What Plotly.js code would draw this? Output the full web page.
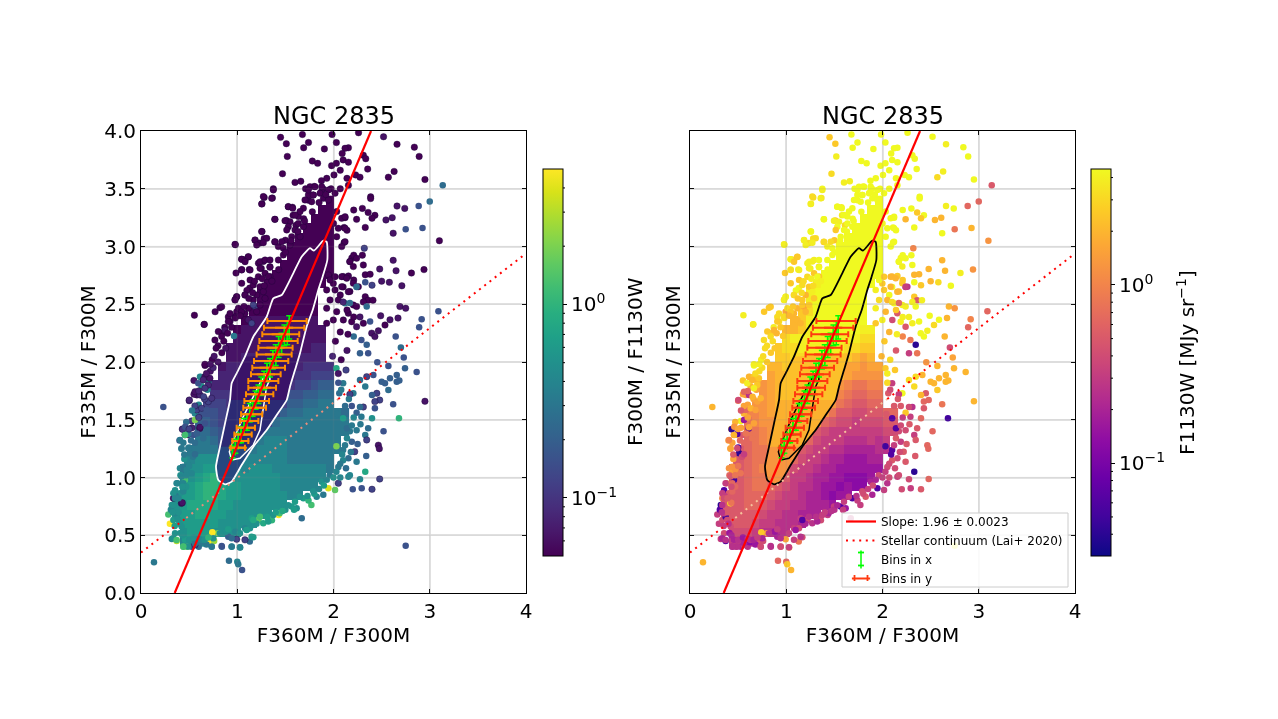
<!DOCTYPE html>
<html><head><meta charset="utf-8">
<script src="https://cdn.plot.ly/plotly-3.0.1.min.js"></script>
<style>html,body{margin:0;padding:0;background:#fff}#c{width:1278px;height:719px;filter:blur(0.45px)}</style>
</head><body><div id="c"></div>
<script>
const _ = null;
// colour values are tenths of a decade: 0 = 10^0, -10 = 10^-1
const heatX = [.28,.36,.44,.52,.60,.68,.76,.84,.92,1.0,1.08,1.16,1.24,1.32,1.40,1.48,1.56,1.64,1.72,1.80,1.88,1.96,2.04,2.12];
const heatY = [.44,.52,.60,.68,.76,.84,.92,1.0,1.08,1.16,1.24,1.32,1.40,1.48,1.56,1.64,1.72,1.80,1.88,1.96,2.04,2.12,2.20,2.28,2.36,2.44,2.52,2.60,2.68,2.76,2.84,2.92,3.0,3.08,3.16,3.24,3.32,3.40];
const heatRatio = [
[_,_,-4,-3,-3,-3,_,_,_,_,_,_,_,_,_,_,_,_,_,_,_,_,_,_],
[_,_,-3,-2,-2,-2,-3,-3,-3,-3,_,_,_,_,_,_,_,_,_,_,_,_,_,_],
[_,_,-2,-2,-2,-2,-2,-3,-3,-3,-3,-3,_,_,_,_,_,_,_,_,_,_,_,_],
[_,-3,-2,-2,-1,-1,-2,-2,-3,-3,-3,-3,-3,-3,_,_,_,_,_,_,_,_,_,_],
[_,-3,-2,-1,-1,-1,-1,-2,-2,-3,-3,-3,-3,-3,-3,-3,_,_,_,_,_,_,_,_],
[_,-3,-2,-2,-1,0,0,-1,-2,-2,-3,-3,-3,-3,-3,-3,-4,-4,_,_,_,_,_,_],
[_,_,-3,-2,-1,0,0,-1,-2,-2,-3,-3,-3,-3,-3,-4,-4,-4,-4,-4,_,_,_,_],
[_,_,-4,-3,-2,-1,0,-1,-2,-3,-3,-3,-3,-3,-3,-4,-4,-4,-4,-4,-4,_,_,_],
[_,_,-4,-3,-3,-2,-2,-2,-3,-3,-4,-3,-3,-3,-4,-4,-4,-4,-4,-4,-4,-5,_,_],
[_,_,_,-4,-3,-3,-3,-7,-8,-6,-4,-4,-4,-4,-4,-4,-5,-5,-5,-5,-5,-5,_,_],
[_,_,_,-5,-5,-5,-5,-8,-8,-8,-7,-5,-4,-4,-4,-4,-5,-5,-5,-5,-5,-5,-5,_],
[_,_,_,_,-5,-5,-6,-8,-8,-8,-8,-7,-5,-4,-4,-4,-5,-5,-5,-5,-5,-5,-5,_],
[_,_,_,_,-6,-6,-7,-8,-8,-8,-8,-8,-8,-5,-5,-5,-5,-5,-5,-5,-5,-5,-5,-5],
[_,_,_,_,-7,-7,-8,-9,-9,-9,-9,-9,-9,-9,-6,-5,-5,-5,-5,-5,-5,-5,-5,-5],
[_,_,_,_,-8,-8,-8,-9,-9,-9,-9,-9,-9,-9,-9,-7,-6,-6,-5,-5,-5,-5,-5,-6],
[_,_,_,_,_,-9,-9,-9,-10,-10,-10,-10,-10,-10,-10,-9,-7,-7,-6,-6,-5,-5,_,_],
[_,_,_,_,_,_,-10,-10,-10,-10,-10,-10,-10,-10,-10,-10,-8,-8,-7,-7,-6,-6,_,_],
[_,_,_,_,_,_,-11,-11,-11,-11,-11,-11,-11,-11,-11,-11,-10,-9,-9,-8,-7,-7,_,_],
[_,_,_,_,_,_,_,-11,-11,-11,-11,-11,-11,-11,-11,-11,-11,-10,-10,-9,-9,-9,_,_],
[_,_,_,_,_,_,_,-12,-11,-11,-11,-11,-11,-11,-11,-11,-11,-11,-10,-10,-10,-10,_,_],
[_,_,_,_,_,_,_,_,-12,-12,-11,-11,-11,-11,-11,-11,-11,-11,-11,-11,-11,_,_,_],
[_,_,_,_,_,_,_,_,-12,-12,-12,-12,-12,-12,-12,-12,-12,-12,-12,-11,-11,_,_,_],
[_,_,_,_,_,_,_,_,_,-12,-12,-12,-12,-12,-12,-12,-12,-12,-12,-12,-12,_,_,_],
[_,_,_,_,_,_,_,_,_,-13,-12,-12,-12,-12,-12,-12,-12,-12,-12,-12,-12,_,_,_],
[_,_,_,_,_,_,_,_,_,_,-13,-12,-12,-12,-12,-12,-12,-12,-12,-12,_,_,_,_],
[_,_,_,_,_,_,_,_,_,_,_,-13,-13,-13,-13,-13,-13,-13,-13,-13,_,_,_,_],
[_,_,_,_,_,_,_,_,_,_,_,_,-13,-13,-13,-13,-13,-13,-13,-13,_,_,_,_],
[_,_,_,_,_,_,_,_,_,_,_,_,-13,-13,-13,-13,-13,-13,-13,-13,_,_,_,_],
[_,_,_,_,_,_,_,_,_,_,_,_,_,-13,-13,-13,-13,-13,-13,-13,-13,_,_,_],
[_,_,_,_,_,_,_,_,_,_,_,_,_,_,-13,-13,-13,-13,-13,-13,-13,-13,_,_],
[_,_,_,_,_,_,_,_,_,_,_,_,_,_,_,-13,-13,-13,-13,-13,-13,-13,_,_],
[_,_,_,_,_,_,_,_,_,_,_,_,_,_,_,_,-13,-13,-13,-13,-13,-13,_,_],
[_,_,_,_,_,_,_,_,_,_,_,_,_,_,_,_,-13,-13,-13,-13,-13,-13,_,_],
[_,_,_,_,_,_,_,_,_,_,_,_,_,_,_,_,_,-13,-13,-13,-13,-13,_,_],
[_,_,_,_,_,_,_,_,_,_,_,_,_,_,_,_,_,_,-13,-13,-13,-13,_,_],
[_,_,_,_,_,_,_,_,_,_,_,_,_,_,_,_,_,_,_,-13,-13,-13,_,_],
[_,_,_,_,_,_,_,_,_,_,_,_,_,_,_,_,_,_,_,_,-13,-13,_,_],
[_,_,_,_,_,_,_,_,_,_,_,_,_,_,_,_,_,_,_,_,_,-13,_,_]
];
const heatFlux = [
[_,_,-5,-5,-6,-6,_,_,_,_,_,_,_,_,_,_,_,_,_,_,_,_,_,_],
[_,_,-4,-4,-4,-5,-6,-6,-6,-6,_,_,_,_,_,_,_,_,_,_,_,_,_,_],
[_,_,-3,-3,-3,-4,-5,-5,-6,-6,-6,-7,_,_,_,_,_,_,_,_,_,_,_,_],
[_,-3,-3,-3,-3,-3,-4,-5,-5,-6,-6,-7,-7,-7,_,_,_,_,_,_,_,_,_,_],
[_,-3,-3,-3,-2,-2,-3,-4,-5,-5,-6,-6,-7,-7,-7,-8,_,_,_,_,_,_,_,_],
[_,-4,-3,-3,-2,-2,-2,-3,-4,-5,-5,-6,-7,-7,-8,-9,-8,-8,_,_,_,_,_,_],
[_,_,-3,-3,-2,-1,-1,-2,-3,-4,-5,-6,-6,-7,-8,-8,-9,-8,-9,-9,_,_,_,_],
[_,_,-4,-3,-2,-1,-1,-1,-2,-3,-5,-5,-6,-7,-7,-8,-8,-9,-9,-9,-8,_,_,_],
[_,_,-4,-3,-2,-1,0,0,-1,-2,-4,-5,-5,-6,-7,-7,-8,-8,-8,-8,-8,-8,_,_],
[_,_,_,-3,-2,-1,-1,0,1,1,-2,-4,-5,-5,-6,-7,-7,-8,-8,-8,-7,-7,_,_],
[_,_,_,-3,-2,-1,-1,0,2,2,1,-3,-4,-5,-5,-6,-6,-7,-7,-7,-7,-6,-6,_],
[_,_,_,_,-2,-1,0,1,2,3,2,1,-2,-4,-5,-5,-5,-6,-6,-6,-5,-6,-5,_],
[_,_,_,_,-1,-1,0,1,2,3,3,2,1,-3,-4,-5,-5,-5,-5,-5,-5,-5,-4,-4],
[_,_,_,_,-1,0,1,1,2,3,3,3,2,1,-2,-3,-4,-4,-5,-4,-4,-4,-3,-3],
[_,_,_,_,0,0,1,2,3,3,3,3,3,2,1,-1,-3,-3,-4,-4,-3,-3,-2,-2],
[_,_,_,_,_,1,1,2,3,3,3,3,3,3,2,1,-1,-2,-3,-3,-2,-2,_,_],
[_,_,_,_,_,_,1,2,3,3,3,4,4,3,3,2,0,-1,-2,-2,-1,-1,_,_],
[_,_,_,_,_,_,1,2,3,3,4,4,4,3,3,3,1,0,-1,-1,0,0,_,_],
[_,_,_,_,_,_,_,2,3,3,4,4,4,4,4,3,3,2,1,1,1,1,_,_],
[_,_,_,_,_,_,_,3,3,4,4,5,5,5,5,4,3,2,2,1,2,2,_,_],
[_,_,_,_,_,_,_,_,4,4,5,5,6,6,6,6,5,4,3,2,3,_,_,_],
[_,_,_,_,_,_,_,_,4,5,5,6,6,6,6,6,6,5,5,4,4,_,_,_],
[_,_,_,_,_,_,_,_,_,5,6,6,6,6,6,6,6,6,6,5,5,_,_,_],
[_,_,_,_,_,_,_,_,_,3,3,4,6,7,7,7,7,7,7,6,6,_,_,_],
[_,_,_,_,_,_,_,_,_,_,3,4,6,7,7,7,7,7,7,7,_,_,_,_],
[_,_,_,_,_,_,_,_,_,_,_,4,5,7,7,7,7,7,7,7,_,_,_,_],
[_,_,_,_,_,_,_,_,_,_,_,_,6,7,7,7,7,7,7,7,_,_,_,_],
[_,_,_,_,_,_,_,_,_,_,_,_,6,7,7,7,7,7,7,7,_,_,_,_],
[_,_,_,_,_,_,_,_,_,_,_,_,_,6,7,7,7,7,7,7,7,_,_,_],
[_,_,_,_,_,_,_,_,_,_,_,_,_,_,7,7,7,7,7,7,7,7,_,_],
[_,_,_,_,_,_,_,_,_,_,_,_,_,_,_,7,7,7,7,7,7,7,_,_],
[_,_,_,_,_,_,_,_,_,_,_,_,_,_,_,_,7,7,7,7,7,7,_,_],
[_,_,_,_,_,_,_,_,_,_,_,_,_,_,_,_,7,7,7,7,7,7,_,_],
[_,_,_,_,_,_,_,_,_,_,_,_,_,_,_,_,_,7,7,7,7,7,_,_],
[_,_,_,_,_,_,_,_,_,_,_,_,_,_,_,_,_,_,7,7,7,7,_,_],
[_,_,_,_,_,_,_,_,_,_,_,_,_,_,_,_,_,_,_,7,7,7,_,_],
[_,_,_,_,_,_,_,_,_,_,_,_,_,_,_,_,_,_,_,_,7,7,_,_],
[_,_,_,_,_,_,_,_,_,_,_,_,_,_,_,_,_,_,_,_,_,7,_,_]
];
// scatter points: x, y, colour value left panel, colour value right panel
const dotsTop = [
[1.45,3.945,-13,4],[1.677,3.97,-13,7],[1.985,3.97,-13,7],[2.26,3.985,-13,7],[1.51,3.89,-13,4],[1.74,3.90,-13,7],[1.69,3.855,-13,7],[2.03,3.90,-13,7],[1.905,3.845,-13,7],[2.155,3.855,-13,7],
[2.12,3.85,-13,7],[2.52,3.95,-12,7],[2.66,3.885,-13,6],[2.84,3.86,-13,7],[2.89,3.78,-13,7],[1.52,3.78,-13,6],[2.09,3.805,-13,7],[2.31,3.79,-13,7],[2.335,3.76,-13,7],[1.78,3.74,-13,7],
[1.835,3.72,-13,7],[2.10,3.75,-13,7],[2.155,3.73,-13,7],[1.98,3.70,-13,7],[2.03,3.72,-13,7],[2.07,3.66,-13,7],[2.005,3.62,-13,7],[1.93,3.59,-13,7],[1.875,3.57,-13,7],[1.47,3.63,-13,5],
[2.355,3.67,-13,7],[2.63,3.65,-13,6],[2.57,3.60,-13,5],[2.95,3.58,-13,7],[2.23,3.62,-13,7],[2.275,3.60,-13,7],[2.14,3.59,-13,7],[1.60,3.555,-13,6],[1.66,3.565,-13,6],[1.71,3.50,-13,7],
[1.80,3.52,-13,7],[1.375,3.50,-13,7],[1.89,3.50,-13,7],[1.975,3.50,-13,7],[2.07,3.50,-13,7],[2.155,3.53,-13,7],[3.135,3.53,-6,-3],[3.0,3.39,-6,-2],[2.885,3.35,-8,-2],[2.386,3.43,-13,7],
[2.386,3.415,-13,7],[2.66,3.35,-12,6],[2.74,3.33,-12,7],[1.28,3.425,-13,5],[1.365,3.42,-13,5],[1.257,3.37,-13,6],[1.74,3.40,-13,7],[1.79,3.445,-13,7],[1.875,3.475,-13,7],[1.53,3.345,-13,6],
[1.573,3.34,-13,6],[2.30,3.33,-13,7],[2.36,3.295,-13,4],[2.43,3.27,-13,7],[2.40,3.245,-13,4],[2.545,3.23,-12,3],[2.61,3.25,-12,3],[2.24,3.235,-13,3],[2.12,3.25,-13,7],[2.21,3.315,-13,7],
[1.39,3.235,-13,7],[1.51,3.225,-13,4],[1.635,3.26,-13,7],[1.58,3.27,-13,6],[1.69,3.24,-13,7],[1.61,3.185,-13,5],[2.75,3.15,-8,-1],[2.925,3.16,-8,3],[2.33,3.165,-13,7],[2.62,3.115,-12,7],
[3.10,3.05,-13,1],[1.257,3.13,-13,7],[2.11,3.165,-13,7],[2.14,3.14,-13,7],[1.185,3.055,-13,5],[1.28,3.07,-13,5],[1.236,3.03,-13,5],[0.98,3.015,-13,6],[1.39,3.04,-13,3],[1.427,3.0,-13,6],
[1.50,3.055,-13,4],[2.11,3.035,-13,7],[2.32,2.985,-9,0],[2.19,2.90,-13,7],[2.21,2.925,-13,7],[2.30,2.925,-13,7],[2.17,2.87,-13,6],[2.31,2.84,-13,7],[2.62,2.88,-12,3],[2.48,2.805,-12,3],
[2.94,2.80,-13,1],[2.65,2.79,-12,3],[2.81,2.77,-13,6],[1.046,2.89,-13,6],[1.115,2.91,-13,4],[1.08,2.885,-13,3],[1.046,2.80,-13,7],[0.987,2.77,-13,4],[1.125,2.80,-13,6],[1.22,2.855,-13,6],
[1.27,2.87,-13,6],[1.25,2.81,-13,6],[1.34,2.825,-13,4],[1.34,2.74,-13,4],[2.33,2.755,-13,3],[2.38,2.76,-13,3],[2.33,2.69,-8,7],[2.40,2.665,-9,4],[2.24,2.65,-6,-6],[2.50,2.70,-12,3],
[2.58,2.69,-12,5],[2.71,2.66,-12,7],[2.10,2.74,-13,3],[2.155,2.745,-13,4],[1.998,2.68,-13,4],[2.21,2.71,-13,4],[2.10,2.65,-13,7],[2.17,2.61,-13,4],[2.07,2.58,-13,7],[0.994,2.565,-13,6],
[0.977,2.54,-13,4],[1.08,2.58,-13,4],[1.13,2.64,-13,7],[1.10,2.62,-13,7],[0.82,2.47,-13,4],[0.77,2.435,-13,4],[0.555,2.405,-13,6],[0.655,2.325,-13,4],[0.907,2.39,-13,5],[0.925,2.35,-13,5],
[0.994,2.435,-13,2],[1.08,2.42,-13,3],[1.185,2.48,-9,2]
];
const dotsCloud = [
[1.739,3.446,-13,7],[1.704,3.403,-13,7],[1.773,3.388,-13,7],[1.687,3.331,-13,7],[1.652,3.302,-13,7],[1.60,3.273,-13,7],[1.531,3.345,-13,7],[1.576,3.331,-13,7],[1.635,3.2,-13,7],[1.548,3.215,-13,6],
[1.496,3.224,-13,6],[1.392,3.235,-13,7],[1.60,3.143,-13,7],[1.687,3.172,-13,7],[1.531,3.172,-13,7],[1.514,3.143,-13,4],[1.254,3.129,-13,7],[1.392,3.042,-13,5],[1.462,3.042,-13,5],[1.566,3.085,-13,7],
[1.652,3.085,-13,7],[1.548,3.013,-13,7],[1.479,2.984,-13,7],[1.306,3.071,-13,5],[1.185,3.056,-13,6],[1.202,3.013,-13,6],[1.271,3.033,-13,6],[.977,3.019,-13,6],[1.046,2.889,-13,6],[1.115,2.912,-13,4],
[1.081,2.869,-13,4],[1.046,2.797,-13,5],[1.133,2.797,-13,6],[1.237,2.869,-13,6],[1.289,2.883,-13,6],[1.34,2.883,-13,7],[1.237,2.811,-13,6],[1.34,2.82,-13,7],[1.289,2.768,-13,4],[1.219,2.739,-13,5],
[1.323,2.739,-13,7],[1.427,2.883,-13,7],[1.479,2.927,-13,7],[1.133,2.71,-13,4],[1.167,2.667,-13,5],[1.046,2.681,-13,4],[1.081,2.58,-13,5],[.994,2.566,-13,6],[.977,2.537,-13,6],[1.012,2.465,-13,5],
[.838,2.479,-13,4],[1.237,2.652,-13,4],[1.271,2.609,-13,6],[1.202,2.58,-13,3],[1.289,2.551,-13,4],[1.167,2.537,-13,4],[1.237,2.494,-13,4],[1.115,2.465,-13,3],[1.202,2.436,-13,3],[1.046,2.436,-13,4],
[.977,2.393,-13,5],[1.115,2.364,-12,3],[.925,2.42,-13,5],[1.15,2.335,-9,3],[2.033,3.302,-13,7],[2.085,3.244,-13,7],[2.12,3.258,-13,7],[2.05,3.158,-13,7],[2.12,3.158,-13,7],[2.0,3.2,-13,7],
[2.12,3.042,-13,7],[2.033,3.085,-13,7],[2.085,2.999,-13,7],[2.17,2.869,-13,7],[2.24,2.898,-13,7],[2.206,2.826,-13,6],[1.947,2.753,-13,7],[1.964,2.71,-13,7],[2.016,2.739,-13,4],[2.085,2.739,-13,3],
[2.137,2.725,-13,3],[2.206,2.681,-13,4],[2.258,2.652,-13,-6],[1.929,2.624,-13,6],[2.016,2.624,-13,4],[2.085,2.652,-13,3],[2.154,2.609,-13,3],[2.05,2.537,-13,3],[1.964,2.537,-13,5],[2.12,2.508,-5,7],
[2.206,2.494,-13,6],[1.929,2.465,-13,6],[2.033,2.436,-13,3],[2.154,2.422,-13,-3],[1.998,2.364,-13,6],[2.102,2.364,-13,-4],[2.189,2.349,-13,6],[1.929,2.335,-13,4],[2.24,2.652,-6,-5],[1.167,2.494,-9,4],
[1.756,3.518,-13,7],[1.808,3.518,-13,7],[1.877,3.518,-13,7],[1.947,3.49,-13,7],[2.016,3.461,-13,7],[1.86,3.461,-13,7],[1.895,3.417,-13,7],[1.947,3.403,-13,7],[1.739,3.49,-13,7],[1.79,3.446,-13,7],
[1.375,3.49,-13,6],[1.358,3.417,-13,6],[1.271,3.432,-13,5],[1.254,3.368,-13,6],
[1.50,2.95,-13,7],[1.56,3.05,-13,7],[1.63,3.13,-13,7],[1.70,3.22,-13,7],[1.78,3.30,-13,7],[1.85,3.38,-13,7],[1.92,3.45,-13,7],[1.43,2.80,-13,7],[1.36,2.70,-13,6],[1.28,2.66,-13,5]
];
const dotsRight = [
[2.33,2.565,-13,4],[2.36,2.535,-13,-3],[2.41,2.535,-13,6],[2.31,2.52,-13,6],[2.345,2.48,-6,7],[2.10,2.52,-11,5],[2.17,2.51,-6,-2],[2.24,2.48,-13,6],[2.14,2.45,-13,4],[2.21,2.39,-13,6],
[2.69,2.48,-12,3],[2.75,2.465,-12,1],[3.09,2.44,-8,-2],[2.916,2.37,-8,0],[2.89,2.30,-8,-2],[2.67,2.38,-12,3],[2.587,2.365,-12,7],[2.49,2.40,-12,7],[2.38,2.35,-8,7],[2.275,2.39,-12,6],
[2.31,2.335,-13,6],[2.535,2.32,-13,5],[2.466,2.27,-12,6],[2.397,2.25,-12,7],[2.43,2.22,-12,7],[2.24,2.305,-12,-3],[2.29,2.19,-8,-1],[2.21,2.22,-6,0],[2.345,2.15,-7,-14],[2.646,2.22,-8,3],
[2.70,2.125,-6,-4],[2.73,2.04,-8,2],[2.36,2.075,-8,-1],[2.275,2.075,-7,-5],[2.03,1.945,-1,4],[2.455,1.997,-8,1],[2.57,1.966,-8,3],[2.414,1.888,-8,3],[2.45,1.729,-9,-3],[2.33,1.787,-5,5],
[2.40,1.714,-7,3],[2.206,1.729,-5,7],[2.275,1.844,-6,5],[2.345,1.873,-9,5],[2.57,1.758,-6,4],[2.535,1.815,-7,3],[2.50,1.83,-7,3],[2.587,1.859,-7,3],[2.657,1.888,-7,3],[2.743,1.945,-7,3],
[2.864,1.913,-8,3],[2.657,1.83,-7,3],[2.684,1.84,-7,3],[2.95,1.66,-12,3],[2.62,1.634,-8,-1],[2.43,1.60,-8,-3],[2.48,1.67,-9,-2],[2.43,1.657,-9,-2],[2.31,1.61,-9,-6],[2.275,1.61,-6,-4],
[2.24,1.41,-5,-4],[2.68,1.512,0,-13],[2.52,1.40,-8,-2],[2.36,1.426,-6,-3],[2.33,1.368,-5,-5],[2.40,1.512,-3,-2],[2.29,1.527,-5,-5],[2.17,1.40,-5,-4],[2.14,1.426,-6,-12],[2.10,1.512,-2,-12],
[2.466,1.28,-12,-2],[2.476,1.25,-12,-2],[2.345,1.325,-9,-3],[2.19,1.31,-7,-5],[2.10,1.238,-5,-12],[2.03,1.27,3,-13],[2.34,1.186,-7,-3],[2.24,1.137,-5,-3],[2.22,1.224,-9,-3],[2.155,1.166,-6,-4],
[2.33,1.05,-1,-14],[2.275,.984,-4,-4],[2.155,1.007,-4,-5],[2.05,1.09,-5,-4],[2.10,1.15,-4,-3],[2.17,1.02,-4,-4],[2.2,.898,-8,-4],[2.293,.906,-8,-5],[2.40,.898,-9,-3],[2.48,.987,-9,-2],
[2.05,.95,-9,-6],[1.96,1.02,-5,-4],[1.947,.906,6,-12],[2.016,.892,2,-5],[2.75,.41,-8,7],[2.10,1.815,-5,-5],[2.17,1.72,-9,-5],[2.12,1.62,-6,-3],[2.24,1.56,-7,4],[2.28,1.46,-5,-3],
[2.05,1.90,-12,6],[2.08,2.02,-13,5],[2.14,2.10,-12,-3],[2.02,2.18,-13,4],[2.07,2.26,-13,3],[2.15,2.24,-13,6],[1.99,2.05,-11,3],[2.13,1.93,-9,4],[2.06,1.73,-6,-3],[2.04,1.55,-5,-3],
[2.03,1.05,-4,-5],[2.07,1.12,-5,-4],[2.09,1.20,-4,-12],[2.12,1.28,-5,-5],[2.14,1.34,-4,-3],[2.19,1.45,-5,-4],[2.21,1.52,-4,-5],[2.19,1.62,-8,-3],[2.16,1.68,-5,-3],[2.08,1.76,-5,-4],
[2.05,1.82,-8,5],[2.0,1.0,-3,-5],[2.07,1.0,-4,-4],[2.13,1.08,-6,-4],[2.18,1.22,-5,-4],[2.25,1.29,-7,-3]
];
const dotsBottom = [
[.135,.266,-5,3],[.914,.28,-6,-2],[1.0,.27,-4,-2],[1.01,.248,-5,4],[1.05,.20,-8,3],[.735,.40,-5,-5],[.84,.40,-7,-6],[.942,.40,-4,-4],[1.03,.395,-4,1],[1.13,.445,-6,-1],
[1.08,.46,-9,-5],[1.167,.482,-2,-4],[.994,.465,-9,2],[.907,.488,-7,-7],[.745,.52,7,3],[.80,.517,3,2],[1.10,.55,-2,-2],[.72,.44,7,-3],[.76,.45,4,-4],[.60,.40,-6,-6],
[.44,.40,1,-7],[.48,.40,2,-6],[.527,.40,-8,-7],[.56,.416,-9,-5],[.457,.46,-2,-7],[.32,.468,-4,-5],[.37,.45,5,-12],[.354,.517,-3,-4],[.62,.44,-5,-9],[.68,.42,-5,-8],
[1.15,.647,-2,-5],[1.22,.632,2,-4],[1.27,.603,-1,-6],[1.32,.647,2,-3],[1.43,.675,7,-5],[1.44,.69,1,-7],[1.496,.748,-3,-5],[1.565,.748,-2,-12],[1.617,.733,-3,-8],[1.67,.647,-6,-5],
[1.77,.762,1,-5],[1.687,.82,-2,-12],[1.65,.834,-3,-5],[1.825,.834,-4,-3],[1.894,.85,-5,-7],[1.877,.964,-3,-7],[1.74,.80,0,-5],[1.59,.72,-2,-5],[1.36,.63,0,-4],[1.08,.56,-4,-5],
[.88,.53,-3,-8],[.98,.53,-4,-6],[1.20,.60,-3,-7],[1.50,.72,-3,-6],[1.80,.86,-2,-4],[.741,.526,7,4],[.751,.474,-3,-7],[.82,.517,-3,-6],[.907,.552,-2,-5],[.942,.474,-6,-6],
[1.028,.517,-3,-5],[1.132,.56,-3,-4],[1.149,.488,-2,-6],[1.236,.661,1,-6],[1.167,.632,-1,-12],[1.322,.618,-2,-7],[1.375,.676,-3,-5],[1.097,.546,-2,-8],[.49,.402,-3,-6],[.561,.43,-5,-7],
[.63,.459,-4,-6],[.734,.402,-5,-4],[.838,.407,-8,-6],[.942,.402,-5,-4],[1.028,.396,-4,-5],
[1.31,.66,-2,-6],[1.40,.70,-2,-5],[1.47,.71,-1,-6],[1.53,.76,-3,-7],[1.60,.79,-2,-5],[1.73,.84,-3,-6],[1.79,.88,-3,-4],[1.85,.90,-4,-5],[1.90,.93,-2,-4],[1.93,.98,-4,-7],
[.50,.46,-3,-6],[.55,.48,-3,-8],[.60,.47,-4,-6],[.66,.46,-3,-7],[.70,.48,0,-5]
];
const dotsLeft = [
[.232,1.61,-8,3],[.50,1.665,-11,-1],[.665,1.97,-13,7],[.55,1.84,-12,4],[.62,1.87,-3,3],[.69,1.76,-4,2],[.58,1.715,-12,2],[.60,1.63,-4,2],[.527,1.49,-10,7],[.56,1.555,-4,3],
[.43,1.42,-9,3],[.61,1.425,-12,-12],[.49,1.37,-12,3],[.457,1.37,-10,-4],[.40,1.32,-8,2],[.42,1.25,-4,2],[.51,1.21,-5,-14],[.54,1.18,-5,-4],[.405,1.08,-4,1],[.44,1.05,-5,2],
[.457,.98,1,-13],[.354,.89,-3,-12],[.405,.863,-3,-3],[.336,.82,-12,0],[.42,.776,-12,5],[.32,.762,-3,-14],[.284,.68,1,-5],[.30,.60,7,-5],[.336,.632,-2,-4],[.37,.66,-3,-13],
[.48,1.13,-4,-3],[.45,1.16,-3,2],[.41,1.02,-3,-2],[.38,.95,-4,1],[.36,.84,-5,-5],[.31,.72,-4,-12],[.44,1.30,-5,2],[.47,1.48,-6,3],[.55,1.72,-12,2],[.63,1.79,-3,3],
[.50,1.26,-5,-13],[.53,1.43,-11,2],[.58,1.60,-4,2],[.66,1.86,-12,4],[.72,1.92,-12,5],[.74,2.02,-13,6],[.80,2.14,-13,5],[.84,2.25,-13,4],[.87,2.30,-13,6],[.70,1.83,-4,3],
[.658,2.326,-13,6],[.803,2.263,-13,4],[.838,2.22,-13,5],[.768,2.19,-13,5],[.907,2.35,-13,4],[.966,2.225,-5,4],[.872,2.277,-12,3],[.664,1.98,-13,6],[.613,1.873,-4,3],[.664,1.873,-12,4],
[.595,1.816,-8,6],[.647,1.845,-11,3],[.699,1.801,-11,4],[.561,1.743,-12,-2],[.613,1.715,-11,-6],[.664,1.772,-10,6],[.716,1.859,-12,4],[.502,1.671,-11,-4],[.699,1.657,-9,2],[.734,1.686,-10,3],
[.578,1.585,-9,-2],[.63,1.6,-9,3],[.682,1.585,-8,2],[.561,1.498,3,-8],[.613,1.435,-12,2],[.664,1.469,-8,2],[.432,1.417,-10,-14],[.543,1.368,-8,-3],[.491,1.377,-5,-12],[.457,1.368,1,3],
[.405,1.325,-5,0],[.422,1.253,-5,2],[.561,1.201,-6,-5],[.491,1.253,-5,-4],[.647,1.34,-6,-1],[.439,1.094,-5,1],[.474,1.065,-4,1],[.526,1.036,-4,-1],[.422,1.008,-4,-3],[.37,.95,-4,-5],
[.439,.95,-4,-2],[.336,.863,-3,-5],[.439,.878,-4,-2],[.353,.82,-4,-4],[.429,.782,-12,-1],[.335,.762,-3,-6],[.353,.69,-4,-5],[.387,.632,-3,-4],[.422,.575,-3,-4],[.335,.474,-3,-7],
[.37,.459,1,-6],[.44,.402,1,-6],[.41,.52,-3,-8],[.39,.70,-3,-3],[.47,.92,-3,-2],[.50,1.10,-4,-1],[.52,1.32,-6,-2],[.60,1.52,-9,2],[.66,1.68,-9,2],[.75,1.95,-11,5],
[.56,1.62,-9,2],[.60,1.75,-11,-2],[.65,1.70,-9,3],[.53,1.58,-5,-3],[.46,1.44,-8,1],[.50,1.42,-9,2],[.56,1.30,-6,-2],[.58,1.38,-7,-1],[.45,1.20,-5,-3],[.47,1.02,-4,-1],
[.43,.92,-3,-4],[.39,.82,-4,-3],[.40,.60,-3,-6],[.43,.50,-3,-7],[.35,.58,-2,-5],[.33,.70,-3,-6],
[.76,2.05,-12,5],[.80,2.0,-12,4],[.84,2.08,-13,4],[.78,2.12,-13,5],[.86,2.18,-13,5],[.90,2.25,-13,3],[.94,2.30,-13,4],[.98,2.38,-13,5],[1.03,2.40,-13,3],[1.07,2.48,-13,4],
[1.12,2.55,-13,4],[1.16,2.60,-13,5],[1.18,2.70,-13,5],[1.26,2.72,-13,6],[.88,2.12,-12,4],[.72,1.98,-12,6],[.68,1.90,-12,5]
];
const fitX = [0.35, 2.39];
const fitY = [0, 4];
const continuumLowX = [0, 0.47], continuumLowY = [0.35, 0.65];
const continuumMidX = [0.47, 2.05], continuumMidY = [0.65, 1.68];
const continuumHighX = [2.05, 4], continuumHighY = [1.68, 2.94];
const outerX = [1.894,1.929,1.936,1.887,1.842,1.784,1.721,1.669,1.652,1.6,1.548,1.514,1.41,1.306,1.167,1.046,.942,.873,.803,.779,.821,.873,.925,.942,.994,1.08,1.167,1.306,1.375,1.462,1.582,1.669,1.756,1.797,1.894];
const outerY = [3.05,3.04,2.883,2.739,2.623,2.45,2.306,2.133,2.075,1.93,1.786,1.671,1.541,1.411,1.267,1.108,.964,.941,.978,1.094,1.267,1.469,1.671,1.816,1.902,2.046,2.219,2.392,2.55,2.58,2.768,2.912,2.985,2.964,3.05];
const innerX = [.942,.918,.976,1.063,1.167,1.236,1.33,1.34,1.305,1.27,1.236,1.167,1.028,.942];
const innerY = [1.152,1.223,1.354,1.527,1.70,1.816,1.93,1.85,1.787,1.585,1.41,1.282,1.166,1.152];
const binYy = [2.355,2.297,2.24,2.182,2.124,2.066,2.009,1.951,1.893,1.835,1.778,1.72,1.662,1.604,1.547,1.489,1.431,1.373,1.316,1.258];
const binYx = [1.517,1.487,1.452,1.429,1.397,1.383,1.352,1.326,1.297,1.271,1.259,1.233,1.202,1.181,1.15,1.124,1.089,1.06,1.032,1.006];
const binYerr = [.204,.21,.192,.199,.178,.182,.178,.17,.154,.156,.144,.142,.128,.118,.11,.095,.095,.09,.083,.074];
const binXx = [.95,.98,1.01,1.04,1.07,1.10,1.13,1.16,1.19,1.22,1.25,1.28,1.31,1.34,1.37,1.40,1.43,1.46,1.49,1.52,1.54];
const binXy = [1.22,1.27,1.32,1.37,1.44,1.48,1.56,1.60,1.67,1.72,1.79,1.84,1.91,1.95,2.02,2.06,2.13,2.16,2.23,2.25,2.30];
const binXerr = [.05,.06,.06,.07,.07,.07,.08,.07,.08,.08,.08,.08,.08,.08,.08,.09,.09,.09,.09,.10,.10];
const ratioMajor = [.1, 1], ratioMinor = [.06,.07,.08,.09,.2,.3,.4,.5,.6,.7,.8,.9,2,3,4];
const fluxMajor = [.1, 1], fluxMinor = [.04,.05,.06,.07,.08,.09,.2,.3,.4,.5,.6,.7,.8,.9,2,3,4];
const plasma = [[0,'#0d0887'],[.1,'#41049d'],[.2,'#6a00a8'],[.3,'#8f0da4'],[.4,'#b12a90'],[.5,'#cc4778'],[.6,'#e16462'],[.7,'#f2844b'],[.8,'#fca636'],[.9,'#fcce25'],[1,'#f0f921']];

const FONT = 'DejaVu Sans';
const allDots = dotsTop.concat(dotsCloud, dotsRight, dotsBottom, dotsLeft);
const W = 1278, H = 719;
const px = v => v / W, py = v => 1 - v / H;

function panel(ax, heat, dotCol, ca, lineCol, binCol, paleCol, legend, fills, dotEdge) {
  const xa = ax === 1 ? 'x' : 'x2', ya = ax === 1 ? 'y' : 'y2';
  const common = {xaxis: xa, yaxis: ya};
  const fillSpans = [[8,26],[11,23],[14,21]];
  return [
    {type:'heatmap', x:heatX, y:heatY, z:heat, coloraxis:ca, hoverongaps:false, ...common},
    {type:'scatter', mode:'markers', x:allDots.map(d=>d[0]), y:allDots.map(d=>d[1]), showlegend:false,
     marker:{size:6.5, color:allDots.map(d=>d[dotCol]), coloraxis:ca,
       line:{width:allDots.map(d=>dotEdge && d[dotCol] <= -9 ? 0.7 : 0), color:dotEdge||'rgba(0,0,0,0)'}}, ...common},
    ...fillSpans.map((s,i) => ({type:'scatter', mode:'lines', x:outerX.slice(s[0],s[1]), y:outerY.slice(s[0],s[1]), showlegend:false,
      fill:'toself', fillcolor:fills[i], line:{width:0, color:fills[i], shape:'spline', smoothing:.6}, ...common})),
    {type:'scatter', mode:'lines', x:outerX, y:outerY, showlegend:false, line:{color:lineCol, width:1.8, shape:'spline', smoothing:.5}, ...common},
    {type:'scatter', mode:'lines', x:innerX, y:innerY, showlegend:false, line:{color:lineCol, width:1.5}, ...common},
    {type:'scatter', mode:'markers', name:'Bins in x', x:binXx, y:binXy, legendrank:3, showlegend:legend,
     marker:{symbol:'line-ns-open', size:13, color:'#00ff00', line:{color:'#00ff00', width:1.5}},
     error_y:{type:'data', array:binXerr, color:'#00ff00', thickness:1.5, width:3}, ...common},
    {type:'scatter', mode:'markers', name:'Bins in y', x:binYx, y:binYy, legendrank:4, showlegend:legend,
     marker:{symbol:'line-ew-open', size:13, color:binCol, line:{color:binCol, width:2}},
     error_x:{type:'data', array:binYerr, color:binCol, thickness:2, width:3}, ...common},
    {type:'scatter', mode:'lines', x:continuumMidX, y:continuumMidY, showlegend:false, line:{color:paleCol, width:2, dash:'2px,4.6px'}, ...common},
    {type:'scatter', mode:'lines', x:continuumLowX, y:continuumLowY, showlegend:false, line:{color:'#ff0000', width:2, dash:'2px,4.6px'}, ...common},
    {type:'scatter', mode:'lines', name:'Stellar continuum (Lai+ 2020)', x:continuumHighX, y:continuumHighY, legendrank:2, showlegend:legend, line:{color:'#ff0000', width:2, dash:'2px,4.6px'}, ...common},
    {type:'scatter', mode:'lines', name:'Slope: 1.96 \u00b1 0.0023', x:fitX, y:fitY, legendrank:1, showlegend:legend, line:{color:'#ff0000', width:2.2}, ...common}
  ];
}

const data = [
  ...panel(1, heatRatio, 2, 'coloraxis', '#ffffff', '#ff8c00', '#ea8f7c', false, ['#3a1368','#2c2a74','#27477f'], 'rgba(25,5,55,0.55)'),
  ...panel(2, heatFlux, 3, 'coloraxis2', '#000000', '#ff3a10', '#f6c49c', true, ['#fcc02a','#fbb02f','#f7963f'], null)
];

function axis(extra) {
  return Object.assign({range:[0,4], showgrid:true, gridcolor:'#e6e6e6', gridwidth:1.5, zeroline:false,
    showline:true, linecolor:'#000', linewidth:1, mirror:'allticks', ticks:'inside', ticklen:4, tickcolor:'#000',
    tickfont:{family:FONT,size:20,color:'#000'}}, extra);
}
const tickLabel = v => v === 1 ? '10<sup>0</sup>' : '10<sup>\u22121</sup>';
function bar(left, ticks) {
  return {x:px(left), xanchor:'left', xpad:0, ypad:0, y:py(556), yanchor:'bottom', len:387, lenmode:'pixels',
    thickness:20, thicknessmode:'pixels', outlinewidth:1, outlinecolor:'#000',
    tickmode:'array', tickvals:ticks.map(v=>10*Math.log10(v)), ticktext:ticks.map(tickLabel),
    ticks:'outside', ticklen:4, tickcolor:'#000', tickfont:{family:FONT,size:20,color:'#000'}};
}
const title = (t, cx) => ({text:t, xref:'paper', yref:'paper', x:px(cx), y:py(116), showarrow:false, xanchor:'center', yanchor:'middle', font:{family:FONT,size:24,color:'#000'}});
const sideTitle = (t, cx, cy) => ({text:t, xref:'paper', yref:'paper', x:px(cx), y:py(cy), showarrow:false, textangle:-90, xanchor:'center', yanchor:'middle', font:{family:FONT,size:20,color:'#000'}});

const shapes = [];
const overlay = {color:'rgba(130,130,130,0.12)', width:1.5};
[[ 'x','y' ],[ 'x2','y2' ]].forEach(([xr,yr]) => {
  [1,2,3].forEach(v => shapes.push({type:'line', layer:'above', xref:xr, yref:yr, x0:v, x1:v, y0:0, y1:4, line:overlay}));
  [.5,1,1.5,2,2.5,3,3.5].forEach(v => shapes.push({type:'line', layer:'above', xref:xr, yref:yr, x0:0, x1:4, y0:v, y1:v, line:overlay}));
});
// minor ticks of the two log colour bars
function minorTicks(list, left, lo, hi) {
  list.forEach(v => {
    const p = 556 - (10*Math.log10(v) - lo) / (hi - lo) * 387;
    shapes.push({type:'line', layer:'above', xref:'paper', yref:'paper', x0:px(left+20), x1:px(left+22), y0:py(p), y1:py(p), line:{color:'#000', width:1}});
  });
}
minorTicks(ratioMinor, 543, -13, 7);
minorTicks(fluxMinor, 1091, -15.2, 6.5);
// legend frame and the caps of its error-bar glyphs
shapes.push({type:'rect', layer:'above', xref:'paper', yref:'paper', x0:px(842), x1:px(1068), y0:py(587), y1:py(513), fillcolor:'rgba(255,255,255,0.85)', line:{color:'#cccccc', width:1}});
const legendX = 861, rowX = 559, rowY = 578;
[rowX-6.5, rowX+6.5].forEach(p => shapes.push({type:'line', layer:'above', xref:'paper', yref:'paper', x0:px(legendX-3), x1:px(legendX+3), y0:py(p), y1:py(p), line:{color:'#00ff00', width:1.8}}));
[legendX-6.5, legendX+6.5].forEach(p => shapes.push({type:'line', layer:'above', xref:'paper', yref:'paper', x0:px(p), x1:px(p), y0:py(rowY-3), y1:py(rowY+3), line:{color:'#ff3a10', width:1.8}}));

const layout = {
  width:W, height:H, autosize:false, margin:{l:0,r:0,t:0,b:0,pad:0}, paper_bgcolor:'#fff', plot_bgcolor:'#fff',
  font:{family:FONT,color:'#000'},
  xaxis: axis({domain:[px(141),px(526)], anchor:'y', dtick:1, tick0:0, title:{text:'F360M / F300M', font:{family:FONT,size:20,color:'#000'}, standoff:1}}),
  yaxis: axis({domain:[py(593),py(131)], anchor:'x', dtick:.5, tick0:0, tickformat:'.1f', title:{text:'F335M / F300M', font:{family:FONT,size:20,color:'#000'}, standoff:3}}),
  xaxis2: axis({domain:[px(690),px(1075)], anchor:'y2', dtick:1, tick0:0, title:{text:'F360M / F300M', font:{family:FONT,size:20,color:'#000'}, standoff:1}}),
  yaxis2: axis({domain:[py(593),py(131)], anchor:'x2', dtick:.5, tick0:0, showticklabels:false, title:{text:'F335M / F300M', font:{family:FONT,size:20,color:'#000'}, standoff:3}}),
  coloraxis:{colorscale:'Viridis', cmin:-13, cmax:7, colorbar:bar(543, ratioMajor)},
  coloraxis2:{colorscale:plasma, cmin:-15.2, cmax:6.5, colorbar:bar(1091, fluxMajor)},
  legend:{x:px(841), xanchor:'left', y:py(507), yanchor:'top', bgcolor:'rgba(0,0,0,0)', borderwidth:0, font:{family:FONT,size:12,color:'#000'}, traceorder:'normal'},
  annotations:[title('NGC 2835',333.5), title('NGC 2835',882.5),
    sideTitle('F300M / F1130W',635,362), sideTitle('F1130W [MJy sr<sup>\u22121</sup>]',1186,363)],
  shapes
};
Plotly.newPlot('c', data, layout, {displayModeBar:false, responsive:false});
</script></body></html>
